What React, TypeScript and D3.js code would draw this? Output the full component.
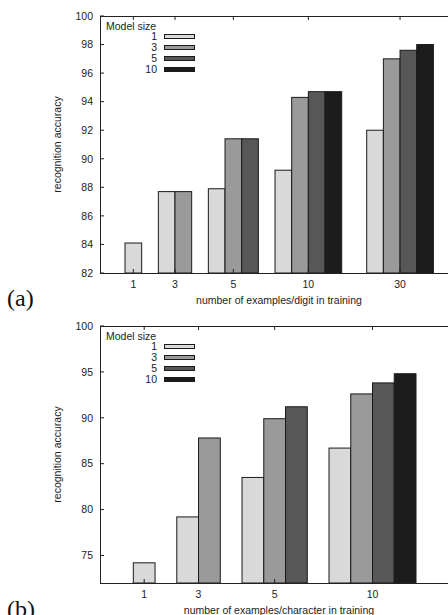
import React from "react";
import * as d3 from "d3";

// legend entries (model size) and bar fills
const modelSizes = ["1", "3", "5", "10"];
const fills = ["#d9d9d9", "#9a9a9a", "#575757", "#1c1c1c"];

// (a) digits
const digitCounts = ["1", "3", "5", "10", "30"];
const digitAcc1 = [84.1, 87.7, 87.9, 89.2, 92.0];
const digitAcc3 = [null, 87.7, 91.4, 94.3, 97.0];
const digitAcc5 = [null, null, 91.4, 94.7, 97.6];
const digitAcc10 = [null, null, null, 94.7, 98.0];
const digitTicks = [82, 84, 86, 88, 90, 92, 94, 96, 98, 100];

// (b) characters
const charCounts = ["1", "3", "5", "10"];
const charAcc1 = [74.2, 79.2, 83.5, 86.7];
const charAcc3 = [null, 87.8, 89.9, 92.6];
const charAcc5 = [null, null, 91.2, 93.8];
const charAcc10 = [null, null, null, 94.8];
const charTicks = [75, 80, 85, 90, 95, 100];

const FONT = "'Liberation Sans', Arial, Helvetica, sans-serif";

type Props = {
  top: number;
  bottom: number;
  yDomain: [number, number];
  ticks: number[];
  counts: string[];
  series: (number | null)[][];
  slotRange: [number, number];
  gaps: number[];
  xLabel: string;
  tag: string;
  tagY: number;
};

const Panel = (p: Props) => {
  const left = 100;
  const right = 448;
  const y = d3.scaleLinear().domain(p.yDomain).range([p.bottom, p.top]);
  const x = d3.scaleLinear().domain([0, 13]).range(p.slotRange);

  // lay out clusters: only bars with values, gaps between clusters
  let slot = 0;
  const groups = p.counts.map((c, gi) => {
    const vals = p.series
      .map((s, si) => ({ v: s[gi], si }))
      .filter((d) => d.v !== null) as { v: number; si: number }[];
    const start = slot;
    slot += vals.length + (p.gaps[gi] ?? 1);
    return { label: c, start, vals };
  });

  const mid = (p.top + p.bottom) / 2;

  return (
    <g>
      {groups.map((g) =>
        g.vals.map((d, k) => (
          <rect
            key={g.label + "-" + k}
            x={x(g.start + k)}
            y={y(d.v)}
            width={x(1) - x(0)}
            height={y(p.yDomain[0]) - y(d.v)}
            fill={fills[d.si]}
            stroke="#1a1a1a"
            strokeWidth={1}
          />
        ))
      )}
      {/* frame */}
      <line x1={left + 0.5} x2={left + 0.5} y1={p.top} y2={p.bottom} stroke="#222" />
      <line x1={left} x2={right} y1={p.top + 0.5} y2={p.top + 0.5} stroke="#222" />
      <line x1={left} x2={right} y1={p.bottom + 0.5} y2={p.bottom + 0.5} stroke="#222" />
      {p.ticks.map((t) => (
        <g key={t}>
          <line x1={left} x2={left + 4} y1={y(t)} y2={y(t)} stroke="#222" />
          <text
            x={93}
            y={y(t) + 3.8}
            textAnchor="end"
            fontSize={10.5}
            fontFamily={FONT}
            fill="#222"
          >
            {t}
          </text>
        </g>
      ))}
      {groups.map((g) => {
        const cx = x(g.start + g.vals.length / 2);
        return (
          <g key={g.label}>
            <line x1={cx} x2={cx} y1={p.top} y2={p.top + 4} stroke="#222" />
            <line x1={cx} x2={cx} y1={p.bottom} y2={p.bottom - 4} stroke="#222" />
            <text
              x={cx}
              y={p.bottom + 15}
              textAnchor="middle"
              fontSize={10.5}
              fontFamily={FONT}
              fill="#222"
            >
              {g.label}
            </text>
          </g>
        );
      })}
      <text
        x={279}
        y={p.bottom + 31}
        textAnchor="middle"
        fontSize={10.5}
        fontFamily={FONT}
        fill="#222"
      >
        {p.xLabel}
      </text>
      <text
        transform={`translate(60.5,${mid}) rotate(-90)`}
        textAnchor="middle"
        fontSize={10.5}
        fontFamily={FONT}
        fill="#222"
      >
        recognition accuracy
      </text>
      {/* legend */}
      <text x={106} y={p.top + 13.5} fontSize={10.5} fontFamily={FONT} fill="#222">
        Model size
      </text>
      {modelSizes.map((m, i) => {
        const ry = p.top + 20.5 + i * 11;
        return (
          <g key={m}>
            <text
              x={157}
              y={ry + 3.8}
              textAnchor="end"
              fontSize={10.5}
              fontFamily={FONT}
              fill="#222"
            >
              {m}
            </text>
            <rect
              x={164.5}
              y={ry - 2}
              width={30}
              height={4}
              fill={fills[i]}
              stroke="#1a1a1a"
            />
          </g>
        );
      })}
      <text
        x={7}
        y={p.tagY}
        fontSize={24}
        fontFamily="'Liberation Serif', 'Times New Roman', serif"
        fill="#111"
      >
        {p.tag}
      </text>
    </g>
  );
};

export default function App() {
  return (
    <svg
      width={448}
      height={615}
      style={{ position: "absolute", left: 0, top: 0, background: "#fff" }}
    >
      <rect width={448} height={615} fill="#fff" />
      <Panel
        top={16}
        bottom={273}
        yDomain={[82, 100]}
        ticks={digitTicks}
        counts={digitCounts}
        series={[digitAcc1, digitAcc3, digitAcc5, digitAcc10]}
        slotRange={[125, 341.7]}
        gaps={[1, 1, 1, 1.5]}
        xLabel="number of examples/digit in training"
        tag="(a)"
        tagY={306}
      />
      <Panel
        top={326}
        bottom={583}
        yDomain={[72, 100]}
        ticks={charTicks}
        counts={charCounts}
        series={[charAcc1, charAcc3, charAcc5, charAcc10]}
        slotRange={[133.3, 416]}
        gaps={[1, 1, 1]}
        xLabel="number of examples/character in training"
        tag="(b)"
        tagY={616.5}
      />
    </svg>
  );
}
